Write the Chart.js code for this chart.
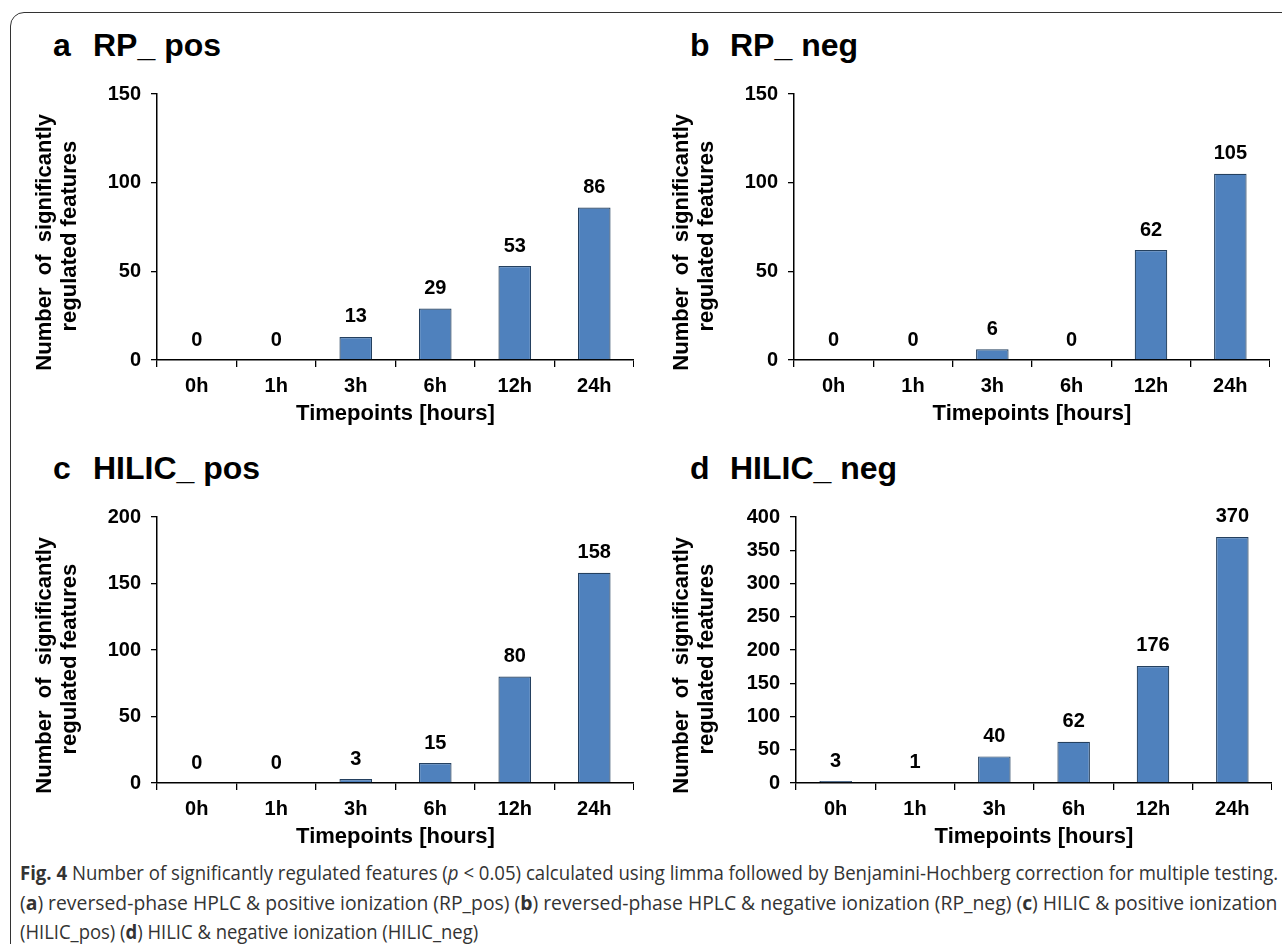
<!DOCTYPE html>
<html>
<head>
<meta charset="utf-8">
<script src="https://cdn.jsdelivr.net/npm/chart.js@4.4.1/dist/chart.umd.min.js"></script>
<style>
  html, body { margin: 0; padding: 0; background: #fff; width: 1282px; height: 944px; overflow: hidden; }
  .frame { position: absolute; left: 10px; top: 12px; width: 1320px; height: 1000px;
           border: 1.5px solid #333; border-top-left-radius: 14px; }
  canvas { position: absolute; }
  .ttl { position: absolute; font: bold 32px "Liberation Sans", Arial, sans-serif; color: #000; line-height: 32px; white-space: nowrap; }
  .cap { position: absolute; left: 20px; line-height: 29px; color: #333; white-space: nowrap;
         font-family: "Open Sans", "Noto Sans", sans-serif; font-size: 19.5px; transform-origin: 0 0; }
</style>
</head>
<body>
<div class="frame"></div>

<div class="ttl" style="left:53px; top:29px;">a</div>
<div class="ttl" style="left:93px; top:29px;">RP_ pos</div>
<div class="ttl" style="left:690px; top:29px;">b</div>
<div class="ttl" style="left:730px; top:29px;">RP_ neg</div>
<div class="ttl" style="left:53px; top:452px;">c</div>
<div class="ttl" style="left:93px; top:452px;">HILIC_ pos</div>
<div class="ttl" style="left:690px; top:452px;">d</div>
<div class="ttl" style="left:730px; top:452px;">HILIC_ neg</div>

<canvas id="chartA" width="614" height="354" style="left:20px; top:72px;"></canvas>
<canvas id="chartB" width="613" height="354" style="left:657px; top:72px;"></canvas>
<canvas id="chartC" width="614" height="354" style="left:20px; top:495px;"></canvas>
<canvas id="chartD" width="615" height="354" style="left:657px; top:495px;"></canvas>

<div class="cap" id="cap1" style="top:858px;"><b>Fig. 4</b> Number of significantly regulated features (<i>p</i> &lt; 0.05) calculated using limma followed by Benjamini-Hochberg correction for multiple testing.</div>
<div class="cap" id="cap2" style="top:888px;">(<b>a</b>) reversed-phase HPLC &amp; positive ionization (RP_pos) (<b>b</b>) reversed-phase HPLC &amp; negative ionization (RP_neg) (<b>c</b>) HILIC &amp; positive ionization</div>
<div class="cap" id="cap3" style="top:917px;">(HILIC_pos) (<b>d</b>) HILIC &amp; negative ionization (HILIC_neg)</div>

<script>
// data
const timepoints = ['0h', '1h', '3h', '6h', '12h', '24h'];
const rpPos    = [0, 0, 13, 29, 53, 86];
const rpNeg    = [0, 0, 6, 0, 62, 105];
const hilicPos = [0, 0, 3, 15, 80, 158];
const hilicNeg = [3, 1, 40, 62, 176, 370];
const yMaxes   = [150, 150, 200, 400];
const yStep    = 50;

const FONT = '"Liberation Sans", Arial, sans-serif';

/* value above each bar */
const valueLabels = {
  id: 'valueLabels',
  afterDatasetsDraw(chart) {
    const ctx = chart.ctx;
    const vals = chart.data.datasets[0].data;
    ctx.save();
    ctx.font = 'bold 20px ' + FONT;
    ctx.fillStyle = '#000';
    ctx.textAlign = 'center';
    ctx.textBaseline = 'middle';
    chart.getDatasetMeta(0).data.forEach((bar, i) => {
      ctx.fillText(String(vals[i]), bar.x, bar.y - 20);
    });
    ctx.restore();
  }
};

function makePanel(id, values, yMax, yWidth) {
  return new Chart(document.getElementById(id), {
    type: 'bar',
    data: {
      labels: timepoints,
      datasets: [{
        data: values,
        backgroundColor: '#4F81BD',
        borderColor: '#24405f',
        borderWidth: 1.2,
        categoryPercentage: 1,
        barPercentage: 0.41,
      }],
    },
    plugins: [valueLabels],
    options: {
      responsive: false,
      animation: false,
      layout: { padding: { top: 13, right: 0, bottom: 0, left: 0 } },
      plugins: { legend: { display: false }, tooltip: { enabled: false } },
      scales: {
        x: {
          offset: true,
          grid: { display: true, offset: true, drawOnChartArea: false, color: '#000', lineWidth: 1.3, tickLength: 7 },
          border: { display: true, color: '#000', width: 1.5 },
          ticks: { color: '#000', padding: 8, font: { family: FONT, size: 20, weight: 'bold', lineHeight: 1.1 } },
          title: {
            display: true, text: 'Timepoints [hours]', color: '#000',
            padding: { top: 4, bottom: 1 },
            font: { family: FONT, size: 22, weight: 'bold', lineHeight: 1.0 },
          },
          afterFit: s => { s.height = 66; },
        },
        y: {
          min: 0, max: yMax,
          ticks: { stepSize: yStep, color: '#000', padding: 10, font: { family: FONT, size: 20, weight: 'bold' } },
          grid: { display: true, drawOnChartArea: false, color: '#000', lineWidth: 1.3, tickLength: 6 },
          border: { display: true, color: '#000', width: 1.5 },
          title: {
            display: true,
            // trailing spaces nudge the centred text down like the original
            text: ['Number  of  significantly     ', 'regulated features   '],
            color: '#000',
            padding: { top: 12, bottom: 0 },
            font: { family: FONT, size: 22, weight: 'bold', lineHeight: 1.15 },
          },
          afterFit: s => { s.width = yWidth; },
        },
      },
    },
  });
}

makePanel('chartA', rpPos,    yMaxes[0], 137);
makePanel('chartB', rpNeg,    yMaxes[1], 137);
makePanel('chartC', hilicPos, yMaxes[2], 137);
makePanel('chartD', hilicNeg, yMaxes[3], 139);

// condense caption lines horizontally to the widths of the original lines
const c1 = document.getElementById('cap1');
const c2 = document.getElementById('cap2');
const c3 = document.getElementById('cap3');
c1.style.transform = 'scaleX(' + (1258 / c1.offsetWidth) + ')';
c2.style.transform = 'scaleX(' + (1257 / c2.offsetWidth) + ')';
c3.style.transform = 'scaleX(' + (458 / c3.offsetWidth) + ')';
</script>
</body>
</html>
